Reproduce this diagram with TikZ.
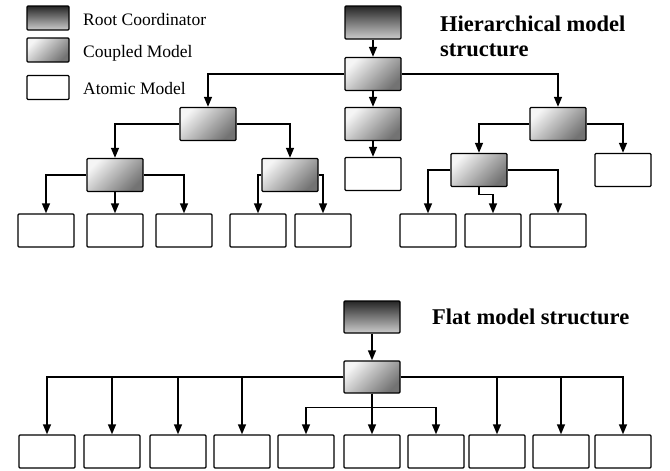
\documentclass[tikz,border=0pt]{standalone}
\usepackage{fontspec}
\setmainfont{Liberation Serif}
\usetikzlibrary{arrows.meta}

\begin{document}
\begin{tikzpicture}[x=1pt,y=-1pt,
    box/.style={draw, line width=1.4pt, rounded corners=1pt, minimum width=56pt, minimum height=33pt, inner sep=0pt},
    rootbox/.style={box, top color=black!85, bottom color=black!20},
    coupledbox/.style={box, top color=black!4, bottom color=black!55, shading angle=45},
    atomicbox/.style={box, fill=white},
    legbox/.style={minimum width=42pt, minimum height=24pt},
    link/.style={line width=1.4pt, -{Triangle[length=10pt,width=8pt]}},
    legtext/.style={anchor=base west, inner sep=0pt, font=\fontsize{17.5}{20}\selectfont},
    title/.style={inner sep=0pt, align=left, font=\fontsize{22.5}{25}\selectfont\bfseries}]
    \useasboundingbox (0,0) rectangle (670,471);
    % legend
    \node[rootbox, legbox] (legroot) at (48,18) {};
    \node[coupledbox, legbox] (legcoupled) at (48,50) {};
    \node[atomicbox, legbox] (legatomic) at (48,87.5) {};
    \node[legtext] (txtroot) at (83,25) {Root Coordinator};
    \node[legtext] (txtcoupled) at (83,57) {Coupled Model};
    \node[legtext] (txtatomic) at (83,94) {Atomic Model};
    % hierarchical model structure
    \node[title, anchor=north west] (htitle) at (440,16) {Hierarchical model\\structure};
    \node[rootbox] (hroot) at (373,22.5) {};
    \node[coupledbox] (c0) at (373,74) {};
    \node[coupledbox] (cl) at (208,124) {};
    \node[coupledbox] (cm) at (373,124) {};
    \node[coupledbox] (cr) at (558,124) {};
    \node[coupledbox] (cll) at (115,175) {};
    \node[coupledbox] (clr) at (290,175) {};
    \node[atomicbox] (am) at (373,174) {};
    \node[coupledbox] (crl) at (479,170) {};
    \node[atomicbox] (ar) at (623,170) {};
    \node[atomicbox] (a1) at (46,230.5) {};
    \node[atomicbox] (a2) at (115,230.5) {};
    \node[atomicbox] (a3) at (184,230.5) {};
    \node[atomicbox] (a4) at (258,230.5) {};
    \node[atomicbox] (a5) at (323,230.5) {};
    \node[atomicbox] (a6) at (428,230.5) {};
    \node[atomicbox] (a7) at (493,230.5) {};
    \node[atomicbox] (a8) at (558,230.5) {};
    \draw[link] (hroot) -- (c0);
    \draw[link] (c0) -- (cm);
    \draw[link] (cm) -- (am);
    \draw[link] (c0.west) -| (cl.north);
    \draw[link] (c0.east) -| (cr.north);
    \draw[link] (cl.west) -| (cll.north);
    \draw[link] (cl.east) -| (clr.north);
    \draw[link] (cll.west) -| (a1.north);
    \draw[link] (cll) -- (a2);
    \draw[link] (cll.east) -| (a3.north);
    \draw[link] (clr.west) -| (a4.north);
    \draw[link] (clr.east) -| (a5.north);
    \draw[link] (cr.west) -| (crl.north);
    \draw[link] (cr.east) -| (ar.north);
    \draw[link] (crl.west) -| (a6.north);
    \draw[link] (crl.south) -- ++(0,7) -| (a7.north);
    \draw[link] (crl.east) -| (a8.north);
    % flat model structure
    \node[title, anchor=base west] (ftitle) at (432,324) {Flat model structure};
    \node[rootbox, minimum height=32pt] (froot) at (372,317) {};
    \node[coupledbox, minimum height=32pt] (cf) at (372,377) {};
    \node[atomicbox] (f1) at (47,451.5) {};
    \node[atomicbox] (f2) at (112,451.5) {};
    \node[atomicbox] (f3) at (178,451.5) {};
    \node[atomicbox] (f4) at (242,451.5) {};
    \node[atomicbox] (f5) at (306,451.5) {};
    \node[atomicbox] (f6) at (372,451.5) {};
    \node[atomicbox] (f7) at (436,451.5) {};
    \node[atomicbox] (f8) at (497,451.5) {};
    \node[atomicbox] (f9) at (561,451.5) {};
    \node[atomicbox] (f10) at (623,451.5) {};
    \draw[link] (froot) -- (cf);
    \draw[link] (cf.west) -| (f1.north);
    \draw[link] (cf.west) -| (f2.north);
    \draw[link] (cf.west) -| (f3.north);
    \draw[link] (cf.west) -| (f4.north);
    \draw[link] (cf) -- (f6);
    \draw[link] (cf.south) -- ++(0,14) -| (f5.north);
    \draw[link] (cf.south) -- ++(0,14) -| (f7.north);
    \draw[link] (cf.east) -| (f8.north);
    \draw[link] (cf.east) -| (f9.north);
    \draw[link] (cf.east) -| (f10.north);
\end{tikzpicture}
\end{document}
